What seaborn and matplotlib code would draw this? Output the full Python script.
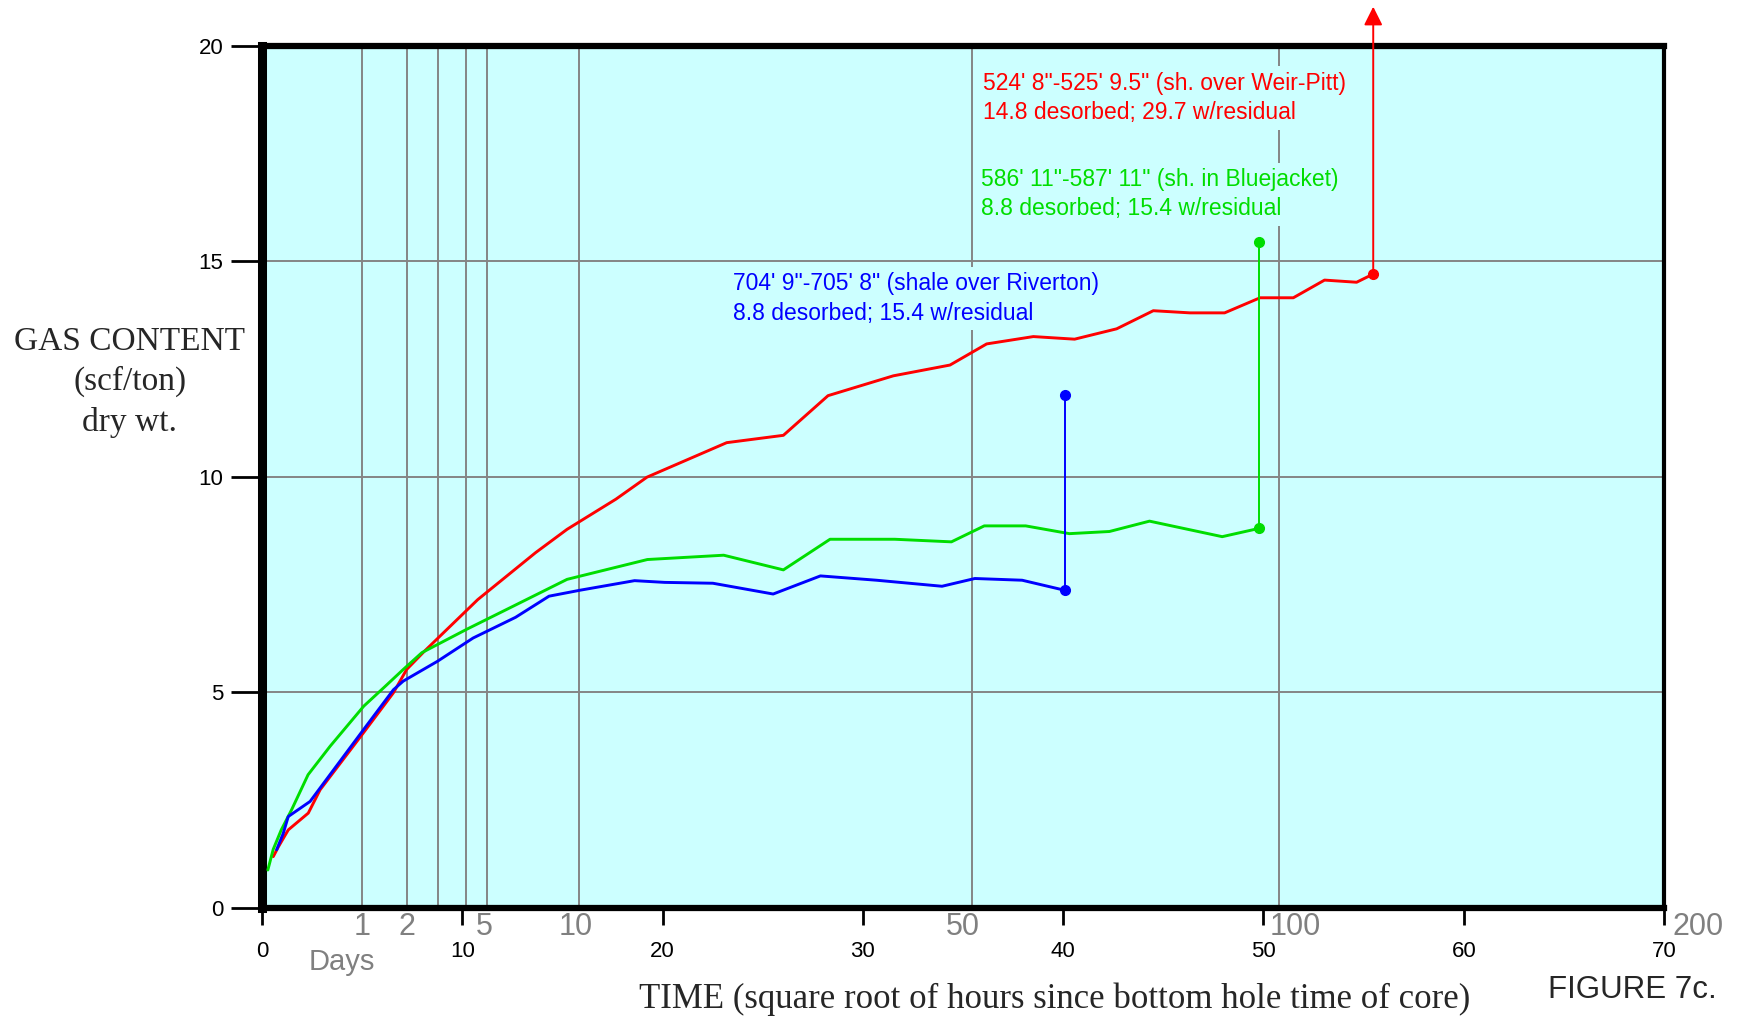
import numpy as np
import pandas as pd
import matplotlib
matplotlib.use("Agg")
import matplotlib.pyplot as plt
import seaborn as sns

# ------------------------------------------------------------------
# Data (x = sqrt of hours, y = scf/ton)
# ------------------------------------------------------------------
red_x = [0.56, 0.82, 1.31, 2.31, 2.9, 5.06, 6.56, 7.22, 8.1, 10.77, 13.66, 15.23,
         17.67, 19.22, 23.2, 26.03, 28.26, 31.52, 34.35, 36.18, 38.51, 40.57,
         42.67, 44.5, 46.33, 48.06, 49.83, 51.49, 53.05, 54.65, 55.48]
red_y = [1.19, 1.42, 1.81, 2.2, 2.74, 4.06, 4.99, 5.53, 5.95, 7.15, 8.24, 8.78,
         9.48, 9.99, 10.79, 10.96, 11.88, 12.34, 12.59, 13.08, 13.25, 13.19,
         13.43, 13.85, 13.8, 13.8, 14.15, 14.15, 14.56, 14.51, 14.7]

green_x = [0.29, 0.56, 0.96, 1.48, 2.3, 3.4, 5.08, 6.06, 7.05, 7.98, 10.21, 12.55,
           15.23, 19.24, 23.05, 26.03, 28.36, 31.59, 34.42, 36.06, 38.13, 40.31,
           42.31, 44.31, 47.94, 49.76]
green_y = [0.88, 1.36, 1.81, 2.28, 3.09, 3.75, 4.68, 5.10, 5.53, 5.92, 6.46, 7.0,
           7.62, 8.08, 8.18, 7.84, 8.55, 8.55, 8.49, 8.86, 8.86, 8.68, 8.73, 8.97,
           8.61, 8.8]

blue_x = [0.73, 1.06, 1.31, 2.4, 5.06, 6.56, 7.05, 8.76, 10.54, 12.66, 14.33, 15.9,
          18.6, 20.1, 22.51, 25.52, 27.88, 30.68, 33.95, 35.59, 37.95, 40.05]
blue_y = [1.35, 1.73, 2.12, 2.47, 4.13, 5.06, 5.26, 5.72, 6.26, 6.74, 7.23, 7.37,
          7.59, 7.55, 7.53, 7.28, 7.7, 7.6, 7.46, 7.64, 7.6, 7.37]

# residual jumps: end of desorption curve -> with-residual value
samples = ["red", "green", "blue"]
jump_x = [55.48, 49.8, 40.1]
jump_low = [14.7, 8.8, 7.37]
jump_high = [20.9, 15.45, 11.9]   # red one runs off the chart (arrow)

labels_1 = ["524' 8\"-525' 9.5\" (sh. over Weir-Pitt)",
            "586' 11\"-587' 11\" (sh. in Bluejacket)",
            "704' 9\"-705' 8\" (shale over Riverton)"]
labels_2 = ["14.8 desorbed; 29.7 w/residual",
            "8.8 desorbed; 15.4 w/residual",
            "8.8 desorbed; 15.4 w/residual"]
label_x = [36.0, 35.9, 23.5]
label_y = [18.78, 16.55, 14.13]

# day markers (vertical grid) and their labels
day_lines = [5.0, 7.25, 8.8, 10.2, 11.25, 15.85, 35.45, 50.8]
day_text = ["1", "2", "5", "10", "50", "100", "200"]
day_text_x = [4.99, 7.26, 11.08, 15.68, 35.0, 51.6, 71.7]

x_ticks = [0, 10, 20, 30, 40, 50, 60, 70]
y_ticks = [0, 5, 10, 15, 20]

colors = {"red": "#ff0000", "green": "#00dd00", "blue": "#0000ff"}
bg = "#ccffff"

curves = pd.concat([
    pd.DataFrame({"x": red_x, "y": red_y, "sample": "red"}),
    pd.DataFrame({"x": green_x, "y": green_y, "sample": "green"}),
    pd.DataFrame({"x": blue_x, "y": blue_y, "sample": "blue"}),
], ignore_index=True)

# ------------------------------------------------------------------
# Figure
# ------------------------------------------------------------------
sns.set_style("white")
plt.rcParams["font.family"] = ["Liberation Sans", "DejaVu Sans"]

fig = plt.figure(figsize=(17.41, 10.18), dpi=100)
ax = fig.add_axes([0.1505, 0.1081, 0.8053, 0.8472])
ax.set_facecolor(bg)

grid_kw = dict(color="#858585", lw=1.4, zorder=1)
for v in day_lines:
    ax.axvline(v, **grid_kw)
for h in y_ticks[1:-1]:
    ax.axhline(h, **grid_kw)

sns.lineplot(data=curves, x="x", y="y", hue="sample", palette=colors,
             estimator=None, sort=False, lw=2.1, legend=False, ax=ax, zorder=3)

for s, xj, lo, hi in zip(samples, jump_x, jump_low, jump_high):
    c = colors[s]
    if s == "red":
        ax.annotate("", xy=(xj, hi), xytext=(xj, lo), annotation_clip=False,
                    arrowprops=dict(arrowstyle="-|>", color=c, lw=1.4,
                                    mutation_scale=28, shrinkA=0, shrinkB=0),
                    zorder=4)
        ax.plot([xj], [lo], "o", color=c, ms=7, zorder=5)
    else:
        ax.plot([xj, xj], [lo, hi], color=c, lw=1.4, zorder=4)
        ax.plot([xj, xj], [lo, hi], "o", color=c, ms=7, zorder=5)

# sample labels sit on a background-coloured box that hides the grid
for s, t1, t2, lx, ly in zip(samples, labels_1, labels_2, label_x, label_y):
    ax.text(lx, ly, t1 + "\n" + t2, color=colors[s], fontsize=16.5, linespacing=1.35,
            va="center", ha="left", zorder=2,
            bbox=dict(facecolor=bg, edgecolor="none", pad=4))

ax.set_xlim(0, 70)
ax.set_ylim(0, 20)
ax.set_xticks(x_ticks)
ax.set_yticks(y_ticks)
ax.tick_params(axis="x", direction="out", length=12, width=2, pad=12,
               labelsize=16, colors="black", bottom=True)
ax.tick_params(axis="y", direction="out", length=22, width=2, pad=6,
               labelsize=16, colors="black", left=True)
ax.set_xlabel("")
ax.set_ylabel("")

for side, w in {"left": 6.5, "bottom": 4.5, "top": 4.5, "right": 3}.items():
    ax.spines[side].set_visible(True)
    ax.spines[side].set_linewidth(w)
    ax.spines[side].set_color("black")

# day labels under the axis
for t, dx in zip(day_text, day_text_x):
    ax.text(dx, -0.45, t, color="#808080", fontsize=22, ha="center", va="center",
            clip_on=False)
ax.text(4.0, -1.25, "Days", color="#808080", fontsize=21, ha="center", va="center",
        clip_on=False)

serif = ["Liberation Serif", "DejaVu Serif"]
fig.text(130 / 1741, 1 - 342 / 1018, "GAS CONTENT", family=serif, fontsize=24,
         ha="center", va="center")
fig.text(130 / 1741, 1 - 381 / 1018, "(scf/ton)", family=serif, fontsize=24,
         ha="center", va="center")
fig.text(130 / 1741, 1 - 422 / 1018, "dry wt.", family=serif, fontsize=24,
         ha="center", va="center")
fig.text(1055 / 1741, 1 - 999 / 1018,
         "TIME (square root of hours since bottom hole time of core)",
         family=serif, fontsize=25, ha="center", va="center")
fig.text(1632 / 1741, 1 - 990 / 1018, "FIGURE 7c.", fontsize=22.5,
         ha="center", va="center")

fig.savefig("out.png", dpi=100)
